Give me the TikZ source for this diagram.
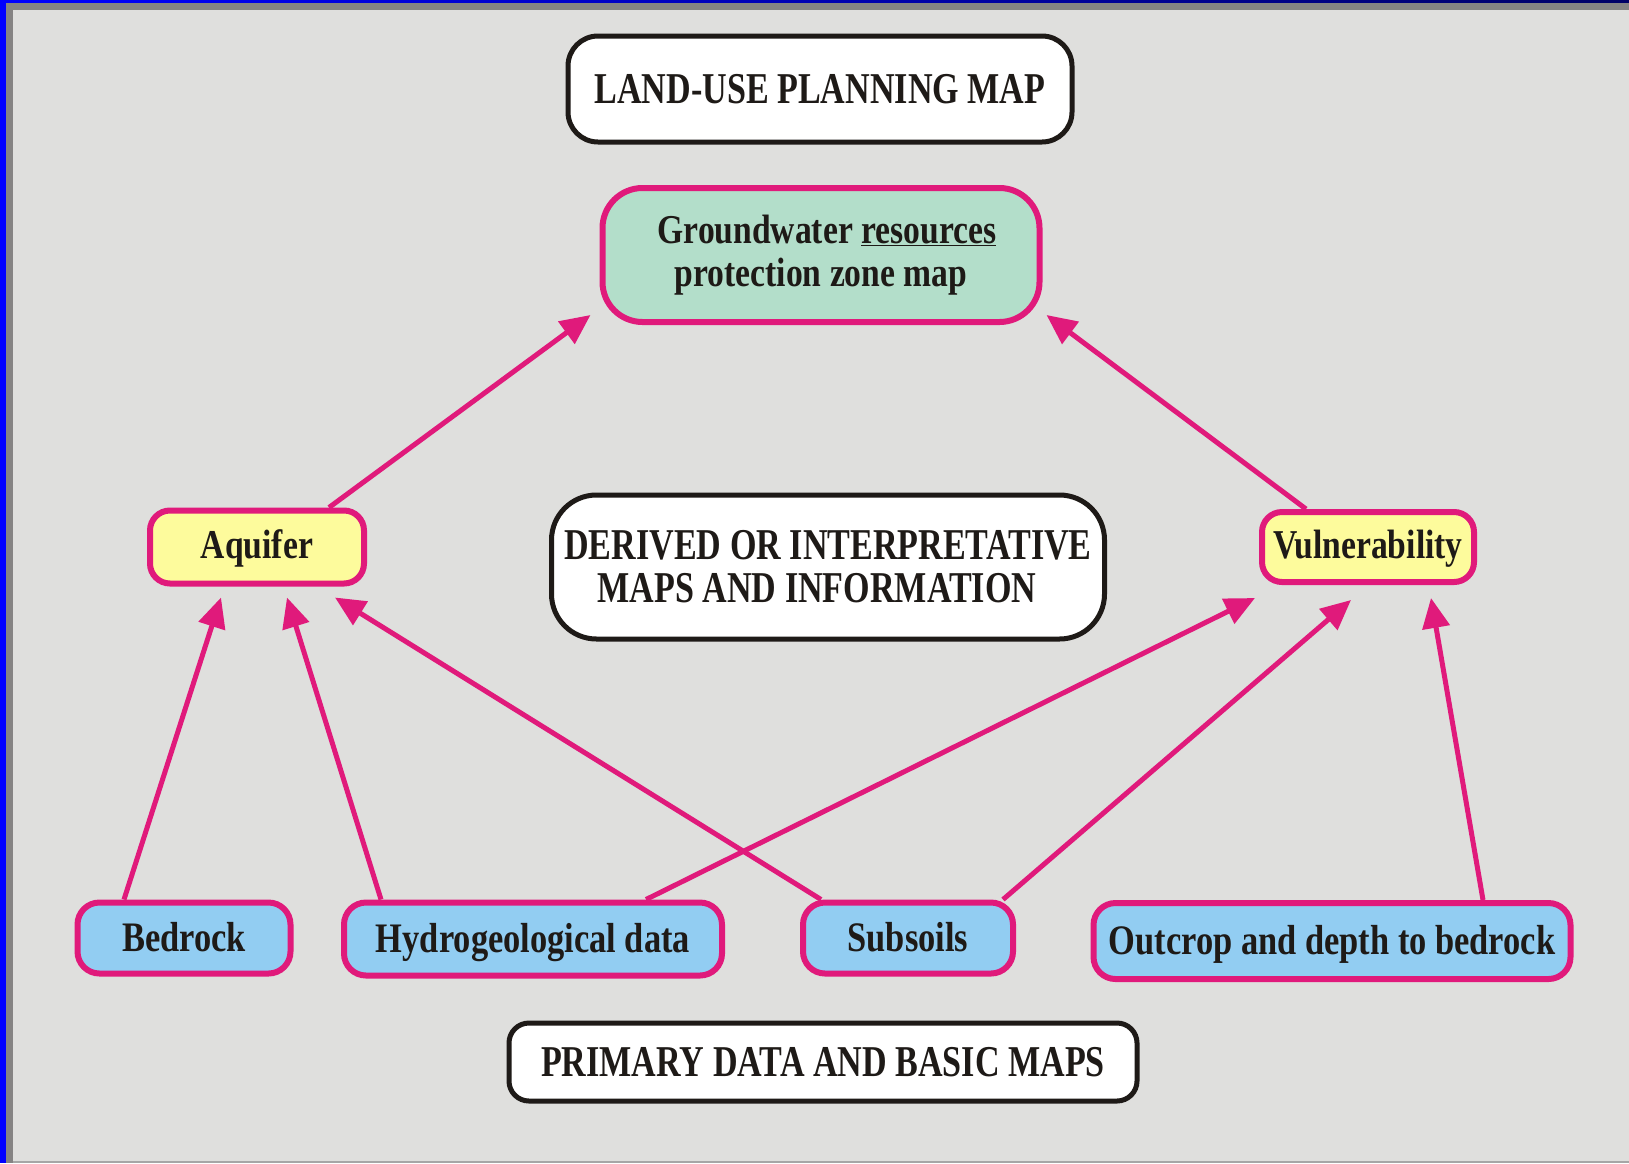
\documentclass[tikz,border=0pt]{standalone}
\usepackage{fontspec}
\setmainfont{Liberation Serif}[FakeStretch=0.82]
\newfontfamily\capfont{Liberation Serif}[FakeStretch=0.775]
\usetikzlibrary{arrows.meta}

\definecolor{bgcol}{HTML}{DFDFDD}
\definecolor{framegray}{HTML}{858383}
\definecolor{magent}{HTML}{E01A7B}
\definecolor{skyfill}{HTML}{92CDF2}
\definecolor{lemon}{HTML}{FDFB9C}
\definecolor{mint}{HTML}{B3DECA}
\definecolor{ink}{HTML}{1E1A17}

\begin{document}
\begin{tikzpicture}[
        x=1pt, y=-1pt,
        level/.style={draw=ink, fill=white, line width=5pt, rounded corners=30pt, text=ink,
                      font=\capfont\bfseries\fontsize{44}{43}\selectfont, align=center, inner sep=0pt},
        result/.style={draw=magent, fill=mint, line width=6pt, rounded corners=40pt, text=ink,
                       font=\bfseries\fontsize{41}{43}\selectfont, align=center, inner sep=0pt},
        derived/.style={draw=magent, fill=lemon, line width=6pt, rounded corners=20pt, text=ink,
                        font=\bfseries\fontsize{41}{43}\selectfont, inner sep=0pt,
                        text height=31pt, text depth=9pt},
        primary/.style={draw=magent, fill=skyfill, line width=6pt, rounded corners=22pt, text=ink,
                        font=\bfseries\fontsize{42}{43}\selectfont, inner sep=0pt,
                        text height=35pt, text depth=9pt},
        arrow/.style={-{Triangle[length=30pt, width=27pt]}, draw=magent, line width=5pt}
    ]

    % page frame
    \fill[bgcol] (0,0) rectangle (1629,1163);
    \fill[framegray] (6,2) rectangle (1629,10);
    \fill[framegray] (6,2) rectangle (13,1163);
    \shade[left color=blue, right color=blue!40!black] (0,0) rectangle (1629,2);
    \fill[blue] (0,0) rectangle (6,1163);
    \fill[black!35] (13,1161) rectangle (1629,1163);
    \useasboundingbox (0,0) rectangle (1629,1163);

    % Levels
    \node[level, minimum width=504pt, minimum height=106pt] (land) at (820,89) {LAND-USE PLANNING MAP};
    \node[level, minimum width=553pt, minimum height=144pt, rounded corners=45pt] (der) at (828,567) {DERIVED OR INTERPRETATIVE\\MAPS AND INFORMATION\hspace*{22pt}};
    \node[level, minimum width=628pt, minimum height=78pt, rounded corners=20pt] (prim) at (823,1062) {PRIMARY DATA AND BASIC MAPS};

    % Maps
    \node[result, minimum width=437pt, minimum height=134pt] (gw) at (821,255) {\hspace*{12pt}Groundwater \underline{resources}\\protection zone map};
    \node[derived, minimum width=214pt, minimum height=73pt] (aqu) at (257,547) {Aquifer};
    \node[derived, minimum width=212pt, minimum height=70pt] (vul) at (1368,547) {Vulnerability};
    \node[primary, minimum width=213pt, minimum height=71pt] (bed) at (184,938) {Bedrock};
    \node[primary, minimum width=378pt, minimum height=73pt] (hyd) at (533,939) {Hydrogeological data};
    \node[primary, minimum width=210pt, minimum height=71pt] (sub) at (908,938) {Subsoils};
    \node[primary, minimum width=477pt, minimum height=76pt] (out) at (1332,941) {Outcrop and depth to bedrock};

    % Arrows
    \draw[arrow] ([xshift=72pt]aqu.north) -- ([xshift=-9pt, yshift=10pt]gw.south west);
    \draw[arrow] ([xshift=-62pt]vul.north) -- ([xshift=4pt, yshift=10pt]gw.south east);
    \draw[arrow] ([xshift=-60pt]bed.north) -- ([xshift=-36pt, yshift=-11pt]aqu.south);
    \draw[arrow] ([xshift=-152pt]hyd.north) -- ([xshift=30pt, yshift=-11pt]aqu.south);
    \draw[arrow] ([xshift=-87pt]sub.north) -- ([xshift=78pt, yshift=-11pt]aqu.south);
    \draw[arrow] ([xshift=113pt]hyd.north) -- ([xshift=-113pt, yshift=-13pt]vul.south);
    \draw[arrow] ([xshift=95pt]sub.north) -- ([xshift=-17pt, yshift=-15pt]vul.south);
    \draw[arrow] ([xshift=151pt]out.north) -- ([xshift=63pt, yshift=-13pt]vul.south);

\end{tikzpicture}
\end{document}
